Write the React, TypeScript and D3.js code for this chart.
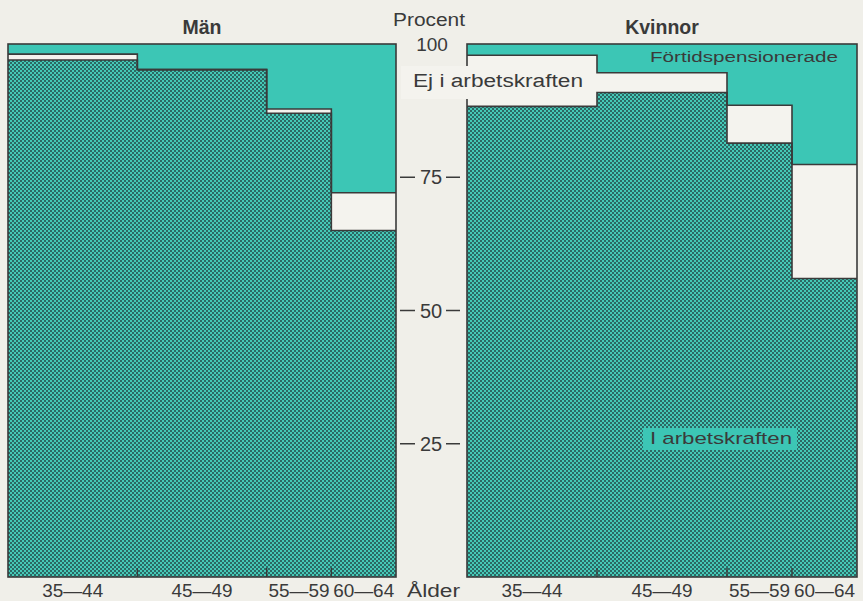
import React from "react";
import * as d3 from "d3";

const ageLabels = ["35—44", "45—49", "55—59", "60—64"];
const ageStart = [35, 45, 55, 60];
const ageEnd = [45, 55, 60, 65];
const menLabour = [97.0, 95.2, 87.0, 65.0];
const menOutside = [1.1, 0.0, 0.8, 7.1];
const womenLabour = [88.3, 90.9, 81.4, 56.0];
const womenOutside = [9.6, 3.7, 7.1, 21.4];
const axisTicks = [25, 50, 75];

const BG = "#f0efe9";
const WHITE = "#f4f3ee";
const TEAL = "#3cc6b5";
const DARK = "#2c6864";
const LIGHT = "#45c9b7";
const INK = "#3a3a3a";
const FONT = "'Liberation Sans', Arial, Helvetica, sans-serif";

const y = d3.scaleLinear().domain([0, 100]).range([577, 44]);

type PanelProps = { x0: number; x1: number; labour: number[]; outside: number[]; title: string };

function Panel({ x0, x1, labour, outside, title }: PanelProps) {
  const x = d3.scaleLinear().domain([35, 65]).range([x0, x1]);
  const line = d3.line<[number, number]>();
  const area = d3.area<[number, number]>().x((d) => d[0]).y1((d) => d[1]).y0(y(0));
  const lfPts: [number, number][] = [];
  const topPts: [number, number][] = [];
  labour.forEach((v, i) => {
    lfPts.push([x(ageStart[i]), y(v)], [x(ageEnd[i]), y(v)]);
    topPts.push([x(ageStart[i]), y(v + outside[i])], [x(ageEnd[i]), y(v + outside[i])]);
  });
  const outsideArea = d3.area<number>()
    .x((_, k) => topPts[k][0])
    .y0((_, k) => lfPts[k][1])
    .y1((_, k) => topPts[k][1]);
  return (
    <g>
      <text x={(x0 + x1) / 2} y={34} textAnchor="middle" fontFamily={FONT} fontWeight="bold" fontSize={19.5} fill={INK}>
        {title}
      </text>
      <rect x={x0} y={y(100)} width={x1 - x0} height={y(0) - y(100)} fill={TEAL} />
      <path d={outsideArea(topPts.map((_, k) => k)) || ""} fill={WHITE} />
      <path d={area(lfPts) || ""} fill="url(#dots)" />
      <path d={line(topPts) || ""} fill="none" stroke={INK} strokeWidth={1.6} />
      <path d={line(lfPts) || ""} fill="none" stroke={INK} strokeWidth={1.6} />
      {ageStart.slice(1).map((a, i) => (
        <line key={i} x1={x(a)} x2={x(a)} y1={y(0)} y2={y(0) - 9} stroke={INK} strokeWidth={1.4} />
      ))}
      <rect x={x0} y={y(100)} width={x1 - x0} height={y(0) - y(100)} fill="none" stroke={INK} strokeWidth={1.6} />
      {ageLabels.map((l, i) => (
        <text key={i} x={(x(ageStart[i]) + x(ageEnd[i])) / 2} y={597} textAnchor="middle" fontFamily={FONT} fontSize={18} fill={INK} textLength={61} lengthAdjust="spacingAndGlyphs">
          {l}
        </text>
      ))}
    </g>
  );
}

export default function App() {
  return (
    <svg width={863} height={601} style={{ position: "absolute", left: 0, top: 0 }}>
      <defs>
        <pattern id="dots" width={4} height={4} patternUnits="userSpaceOnUse">
          <rect width={4} height={4} fill={LIGHT} />
          <rect x={0} y={0} width={2} height={2} fill={DARK} />
          <rect x={2} y={2} width={2} height={2} fill={DARK} />
        </pattern>
      </defs>
      <rect width={863} height={601} fill={BG} />
      <Panel x0={8} x1={396} labour={menLabour} outside={menOutside} title="Män" />
      <Panel x0={467} x1={857} labour={womenLabour} outside={womenOutside} title="Kvinnor" />
      <text x={429} y={26} textAnchor="middle" fontFamily={FONT} fontSize={18} fill={INK} textLength={72} lengthAdjust="spacingAndGlyphs">Procent</text>
      <text x={432} y={51} textAnchor="middle" fontFamily={FONT} fontSize={19} fill={INK}>100</text>
      {axisTicks.map((t) => (
        <g key={t}>
          <line x1={400} x2={415} y1={y(t)} y2={y(t)} stroke={INK} strokeWidth={1.5} />
          <text x={431} y={y(t) + 7} textAnchor="middle" fontFamily={FONT} fontSize={20} fill={INK}>{t}</text>
          <line x1={446} x2={460} y1={y(t)} y2={y(t)} stroke={INK} strokeWidth={1.5} />
        </g>
      ))}
      <rect x={401} y={66} width={190} height={33} fill={WHITE} />
      <text x={413} y={87} fontFamily={FONT} fontSize={18} fill={INK} textLength={170} lengthAdjust="spacingAndGlyphs">Ej i arbetskraften</text>
      <text x={650} y={62} fontFamily={FONT} fontSize={15.5} fill={INK} textLength={188} lengthAdjust="spacingAndGlyphs">Förtidspensionerade</text>
      <rect x={643} y={428} width={154} height={22} fill={TEAL} />
      <text x={650} y={444} fontFamily={FONT} fontSize={17} fill={INK} textLength={142} lengthAdjust="spacingAndGlyphs">I arbetskraften</text>
      <text x={407} y={597} fontFamily={FONT} fontSize={18} fill={INK} textLength={53} lengthAdjust="spacingAndGlyphs">Ålder</text>
    </svg>
  );
}
